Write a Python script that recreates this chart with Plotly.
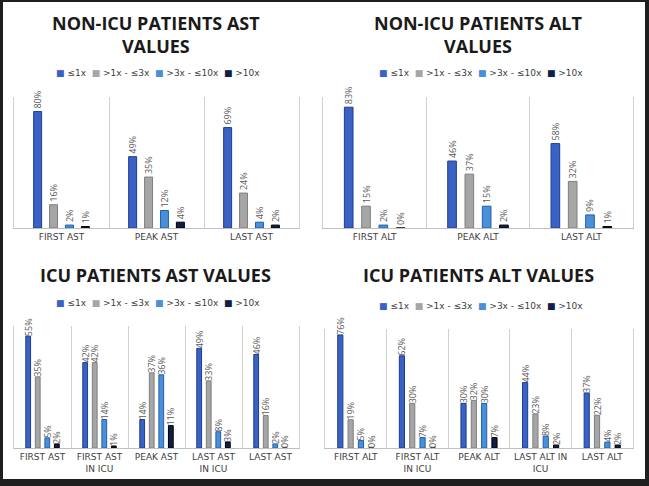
import plotly.graph_objects as go

W, H = 649, 486

series_names = ["≤1x", ">1x - ≤3x", ">3x - ≤10x", ">10x"]
fill_colors = ["#3A62C4", "#A6A6A6", "#4A90D9", "#0F1F45"]
line_colors = ["#1E3D8F", "#7F7F7F", "#2060A8", "#000000"]

# Non-ICU AST
nonicu_ast_cats = ["FIRST AST", "PEAK AST", "LAST AST"]
nonicu_ast_le1 = [80, 49, 69]
nonicu_ast_1to3 = [16, 35, 24]
nonicu_ast_3to10 = [2, 12, 4]
nonicu_ast_gt10 = [1, 4, 2]

# Non-ICU ALT
nonicu_alt_cats = ["FIRST ALT", "PEAK ALT", "LAST ALT"]
nonicu_alt_le1 = [83, 46, 58]
nonicu_alt_1to3 = [15, 37, 32]
nonicu_alt_3to10 = [2, 15, 9]
nonicu_alt_gt10 = [0, 2, 1]

# ICU AST
icu_ast_cats = ["FIRST AST", "FIRST AST<br>IN ICU", "PEAK AST", "LAST AST<br>IN ICU", "LAST AST"]
icu_ast_le1 = [55, 42, 14, 49, 46]
icu_ast_1to3 = [35, 42, 37, 33, 16]
icu_ast_3to10 = [5, 14, 36, 8, 2]
icu_ast_gt10 = [2, 1, 11, 3, 0]

# ICU ALT
icu_alt_cats = ["FIRST ALT", "FIRST ALT<br>IN ICU", "PEAK ALT", "LAST ALT IN<br>ICU", "LAST ALT"]
icu_alt_le1 = [76, 62, 30, 44, 37]
icu_alt_1to3 = [19, 30, 32, 23, 22]
icu_alt_3to10 = [5, 7, 30, 8, 4]
icu_alt_gt10 = [0, 0, 7, 2, 2]

titles = ["NON-ICU PATIENTS AST<br>VALUES", "NON-ICU PATIENTS ALT<br>VALUES",
          "ICU PATIENTS AST VALUES", "ICU PATIENTS ALT VALUES"]
y_max = [90, 90, 60, 80]


def px_x(v):
    return v / W


def px_y(v):
    return (H - v) / H


charts = [
    dict(cats=nonicu_ast_cats, vals=[nonicu_ast_le1, nonicu_ast_1to3, nonicu_ast_3to10, nonicu_ast_gt10],
         xd=(14, 299), yd=(97, 228), title_xy=(156, 34), leg_xy=(158, 73)),
    dict(cats=nonicu_alt_cats, vals=[nonicu_alt_le1, nonicu_alt_1to3, nonicu_alt_3to10, nonicu_alt_gt10],
         xd=(323, 633), yd=(97, 228), title_xy=(478, 34), leg_xy=(481, 73)),
    dict(cats=icu_ast_cats, vals=[icu_ast_le1, icu_ast_1to3, icu_ast_3to10, icu_ast_gt10],
         xd=(14, 299), yd=(326, 448), title_xy=(155, 275), leg_xy=(158, 303)),
    dict(cats=icu_alt_cats, vals=[icu_alt_le1, icu_alt_1to3, icu_alt_3to10, icu_alt_gt10],
         xd=(325, 633), yd=(329, 448), title_xy=(478, 275), leg_xy=(481, 306)),
]

legend_text = "&nbsp;&nbsp;".join(
    f"<span style='color:{c}'>■</span>&nbsp;{n}" for c, n in zip(fill_colors, series_names)
)

fig = go.Figure()
layout = dict(
    width=W, height=H, margin=dict(l=0, r=0, t=0, b=0),
    paper_bgcolor="#1f1f1f", plot_bgcolor="rgba(0,0,0,0)",
    barmode="group", bargap=0.33, bargroupgap=0.5,
    showlegend=False,
    font=dict(family="Open Sans, Liberation Sans, sans-serif", color="#404040"),
    shapes=[dict(type="rect", xref="paper", yref="paper",
                 x0=px_x(3), x1=px_x(645), y0=px_y(479), y1=px_y(2),
                 fillcolor="white", line=dict(width=0), layer="below")],
    annotations=[],
)

for i, ch in enumerate(charts):
    n = i + 1
    xa = "x" if n == 1 else f"x{n}"
    ya = "y" if n == 1 else f"y{n}"
    for s in range(4):
        fig.add_trace(go.Bar(
            x=ch["cats"], y=ch["vals"][s], name=series_names[s],
            marker=dict(color=fill_colors[s], line=dict(color=line_colors[s], width=1)),
            text=[f"{v}%" for v in ch["vals"][s]], textposition="outside",
            textangle=-90, constraintext="none", cliponaxis=False,
            textfont=dict(size=9, color="#595959"),
            xaxis=xa, yaxis=ya, hoverinfo="skip",
        ))
    xkey = "xaxis" if n == 1 else f"xaxis{n}"
    ykey = "yaxis" if n == 1 else f"yaxis{n}"
    layout[xkey] = dict(
        domain=[px_x(ch["xd"][0]), px_x(ch["xd"][1])], anchor=ya,
        type="category", tickson="boundaries", showgrid=True, gridcolor="#d0d0d0",
        gridwidth=1, showline=True, linecolor="#bfbfbf", linewidth=1, ticks="",
        tickfont=dict(size=9, color="#404040", family="DejaVu Sans, sans-serif"),
        fixedrange=True,
    )
    layout[ykey] = dict(
        domain=[px_y(ch["yd"][1]), px_y(ch["yd"][0])], anchor=xa,
        range=[0, y_max[i]], showticklabels=False, showgrid=False, zeroline=False,
        showline=True, linecolor="#d0d0d0", linewidth=1, mirror=True, fixedrange=True,
    )
    layout["annotations"].append(dict(
        text=f"<b>{titles[i]}</b>", xref="paper", yref="paper",
        x=px_x(ch["title_xy"][0]), y=px_y(ch["title_xy"][1]),
        xanchor="center", yanchor="middle", showarrow=False,
        font=dict(size=18, color="#1a1a1a", family="Open Sans, sans-serif"),
    ))
    layout["annotations"].append(dict(
        text=legend_text, xref="paper", yref="paper",
        x=px_x(ch["leg_xy"][0]), y=px_y(ch["leg_xy"][1]),
        xanchor="center", yanchor="middle", showarrow=False,
        font=dict(size=9, color="#404040", family="DejaVu Sans, sans-serif"),
    ))

fig.update_layout(**layout)
fig.write_html(
    "out.html",
    config={"displayModeBar": False, "staticPlot": True},
    post_script="document.body.style.margin='0';document.body.style.overflow='hidden';",
)
